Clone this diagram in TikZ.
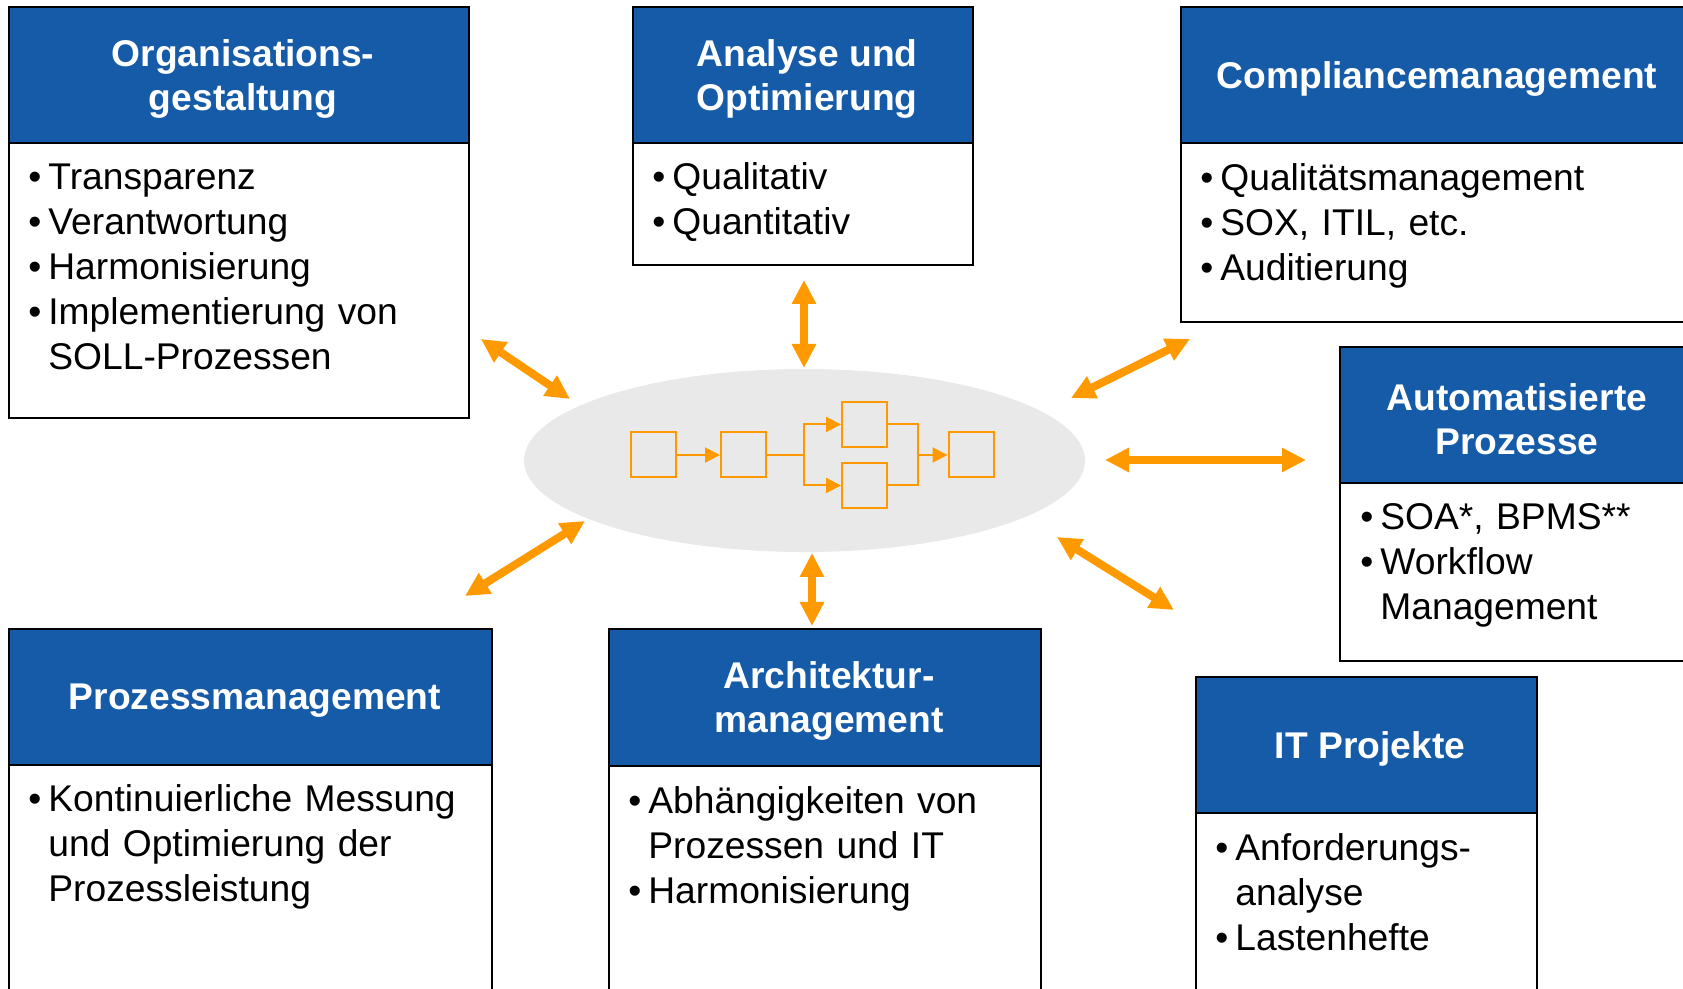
\documentclass[tikz,border=0pt]{standalone}
\usepackage{fontspec}
\setmainfont{Liberation Sans}
\usetikzlibrary{arrows.meta,shapes.geometric}
\definecolor{headblue}{RGB}{22,91,167}
\definecolor{flow}{RGB}{255,153,0}
\definecolor{cloud}{RGB}{233,233,233}
\newcommand{\itm}[1]{\parskip=0pt\hangindent=10pt\hangafter=1\noindent\makebox[10pt][l]{\textbullet}#1\par}
\newcommand{\brk}{\hfil\break}
\tikzset{
	title/.style={text=white, font=\bfseries\fontsize{18.6}{22}\selectfont, align=center, inner sep=0pt},
	body/.style={font=\fontsize{18.6}{22.5}\selectfont, text width=260pt, align=left, inner sep=0pt, anchor=base west},
	frame/.style={line width=1pt, draw=black},
	link/.style={flow, line width=4pt, {Triangle[width=11.5pt,length=12pt]}-{Triangle[width=11.5pt,length=12pt]}},
	flowbox/.style={draw=flow, line width=1pt, minimum size=22.5pt, inner sep=0pt},
	flowline/.style={draw=flow, line width=1pt, -{Triangle[width=7.5pt,length=7.5pt]}}
}
\begin{document}
\begin{tikzpicture}[x=0.5pt,y=-0.5pt]
	\useasboundingbox (0,0) rectangle (1683,989);
	\clip (0,0) rectangle (1683,989);
	
	% Boxen
	\draw[frame][fill=headblue](9,7) rectangle (469,143);
	\draw[frame][fill=white](9,143) rectangle (469,418);
	\node[title] (orgtitle) at (243,79) {Organisations-\\gestaltung};
	\node[body] (orgtext) at (28,190) {\itm{Transparenz}\itm{Verantwortung}\itm{Harmonisierung}\itm{Implementierung von\brk SOLL-Prozessen}};
	
	\draw[frame][fill=headblue](633,7) rectangle (973,143);
	\draw[frame][fill=white](633,143) rectangle (973,265);
	\node[title] (anatitle) at (807,79) {Analyse und\\Optimierung};
	\node[body] (anatext) at (652,190) {\itm{Qualitativ}\itm{Quantitativ}};
	
	\draw[frame][fill=headblue](1181,7) rectangle (1700,143);
	\draw[frame][fill=white](1181,143) rectangle (1700,322);
	\node[title] (comptitle) at (1437,79) {Compliancemanagement};
	\node[body] (comptext) at (1200,191) {\itm{Qualitätsmanagement}\itm{SOX, ITIL, etc.}\itm{Auditierung}};
	
	\draw[frame][fill=headblue](1340,347) rectangle (1700,483);
	\draw[frame][fill=white](1340,483) rectangle (1700,661);
	\node[title] (autotitle) at (1517,419) {Automatisierte\\Prozesse};
	\node[body] (autotext) at (1360,530) {\itm{SOA*, BPMS**}\itm{Workflow\brk Management}};
	
	\draw[frame][fill=headblue](9,629) rectangle (492,765);
	\draw[frame][fill=white](9,765) rectangle (492,1000);
	\node[title] (proztitle) at (255,701) {Prozessmanagement};
	\node[body] (proztext) at (28,812) {\itm{Kontinuierliche Messung\brk und Optimierung der\brk Prozessleistung}};
	
	\draw[frame][fill=headblue](609,629) rectangle (1041,766);
	\draw[frame][fill=white](609,766) rectangle (1041,1000);
	\node[title] (archtitle) at (829,701) {Architektur-\\management};
	\node[body] (archtext) at (628,813) {\itm{Abhängigkeiten von\brk Prozessen und IT}\itm{Harmonisierung}};
	
	\draw[frame][fill=headblue](1196,677) rectangle (1537,813);
	\draw[frame][fill=white](1196,813) rectangle (1537,1000);
	\node[title] (ittitle) at (1370,749) {IT Projekte};
	\node[body] (ittext) at (1215,860) {\itm{Anforderungs-\brk analyse}\itm{Lastenhefte}};
	
	% Prozess in der Mitte
	\node[ellipse][fill=cloud][minimum width=280.5pt, minimum height=91.5pt, inner sep=0pt] (core) at (804.5,460.5) {};
	\node[flowbox] (p1) at (653.5,455) {};
	\node[flowbox] (p2) at (743.5,455) {};
	\node[flowbox] (p3) at (864.5,424.5) {};
	\node[flowbox] (p4) at (864.5,485.5) {};
	\node[flowbox] (p5) at (971,455) {};
	\coordinate (split) at (804,455);
	\coordinate (join) at (918,455);
	\draw[flowline](p1)--(p2);
	\draw[flow][line width=1pt](p2.east)--(split);
	\draw[flowline](split)|-(p3.west);
	\draw[flowline](split)|-(p4.west);
	\draw[flow][line width=1pt](p3.east)-|(join)|-(p4.east);
	\draw[flowline](join)--(p5.west);
	
	% Pfeile
	\coordinate (org1) at (481,339);
	\coordinate (org2) at (570,399);
	\coordinate (ana1) at (804,280);
	\coordinate (ana2) at (804,368);
	\coordinate (comp1) at (1190,339);
	\coordinate (comp2) at (1071,398);
	\coordinate (auto1) at (1105,460);
	\coordinate (auto2) at (1306,460);
	\coordinate (it1) at (1057,537);
	\coordinate (it2) at (1174,610);
	\coordinate (arch1) at (812,553);
	\coordinate (arch2) at (812,626);
	\coordinate (proz1) at (585,521);
	\coordinate (proz2) at (465,596);
	\draw[link](org1)--(org2);
	\draw[link](ana1)--(ana2);
	\draw[link](comp1)--(comp2);
	\draw[link](auto1)--(auto2);
	\draw[link](it1)--(it2);
	\draw[link](arch1)--(arch2);
	\draw[link](proz1)--(proz2);
\end{tikzpicture}
\end{document}
